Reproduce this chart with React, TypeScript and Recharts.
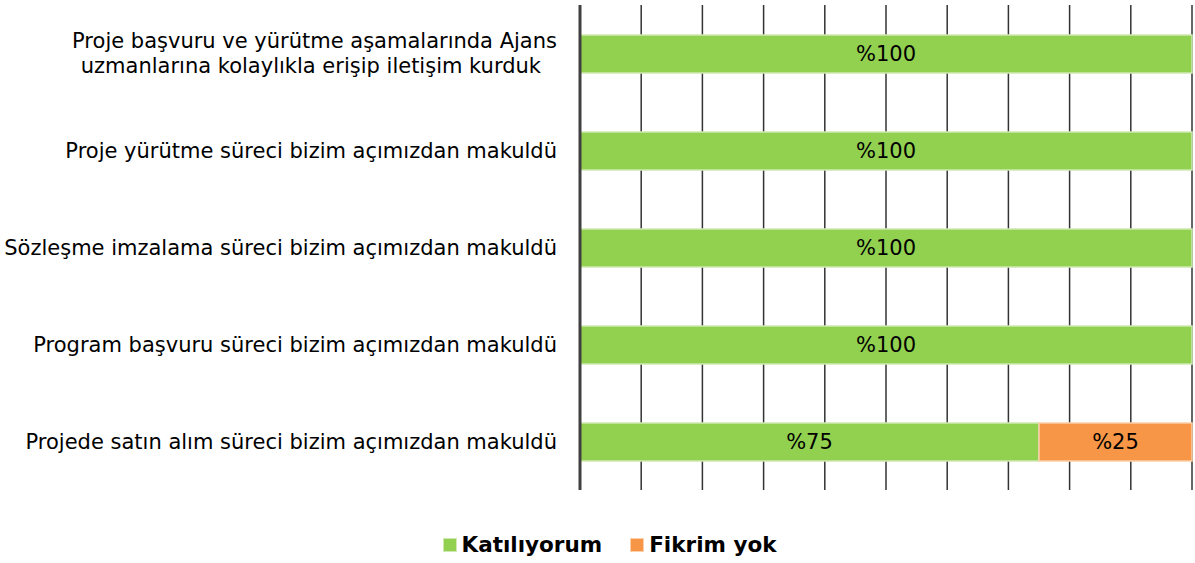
import { BarChart, Bar, XAxis, YAxis, CartesianGrid, Legend, LabelList } from "recharts";

const statements = [
  "Proje başvuru ve yürütme aşamalarında Ajans\nuzmanlarına kolaylıkla erişip iletişim kurduk",
  "Proje yürütme süreci bizim açımızdan makuldü",
  "Sözleşme imzalama süreci bizim açımızdan makuldü",
  "Program başvuru süreci bizim açımızdan makuldü",
  "Projede satın alım süreci bizim açımızdan makuldü",
];
const katiliyorum = [100, 100, 100, 100, 75];
const fikrimYok = [0, 0, 0, 0, 25];
const xTicks = [0, 10, 20, 30, 40, 50, 60, 70, 80, 90, 100];

const series = [
  { key: "katiliyorum", name: "Katılıyorum", color: "#92D050", border: "#cfe9b3" },
  { key: "fikrimYok", name: "Fikrim yok", color: "#F79646", border: "#fbcfa8" },
];

const data = statements.map((s, i) => ({
  name: s,
  katiliyorum: katiliyorum[i],
  fikrimYok: fikrimYok[i],
}));

const FONT = "'DejaVu Sans', Verdana, sans-serif";

const CategoryTick = (props: any) => {
  const { x, y, payload } = props;
  const lines: string[] = String(payload.value).split("\n");
  const lh = 25;
  const start = -((lines.length - 1) * lh) / 2;
  return (
    <text x={x} y={y} textAnchor="end" fill="#000" fontSize={21} fontFamily={FONT}>
      {lines.map((l, i) => (
        <tspan key={i} x={i === 0 ? x : x - 16} dy={i === 0 ? start + 7 : lh}>
          {l}
        </tspan>
      ))}
    </text>
  );
};

const LegendContent = () => (
  <div
    style={{
      display: "flex",
      justifyContent: "center",
      gap: 28,
      fontFamily: FONT,
      fontWeight: "bold",
      fontSize: 21.5,
      color: "#000",
      paddingLeft: 24,
    }}
  >
    {series.map((s) => (
      <div key={s.key} style={{ display: "flex", alignItems: "center" }}>
        <span
          style={{
            width: 12,
            height: 12,
            background: s.color,
            border: `1px solid ${s.border}`,
            marginRight: 5,
            display: "inline-block",
          }}
        />
        {s.name}
      </div>
    ))}
  </div>
);

export default function App() {
  return (
    <div style={{ position: "absolute", left: 0, top: 0, width: 1195, height: 563, background: "#fff" }}>
      <BarChart
        width={1195}
        height={563}
        data={data}
        layout="vertical"
        margin={{ top: 5, right: 3, bottom: 48, left: 0 }}
      >
        <CartesianGrid horizontal={false} stroke="#333" strokeWidth={1.5} />
        <XAxis type="number" domain={[0, 100]} ticks={xTicks} hide />
        <YAxis
          type="category"
          dataKey="name"
          width={580}
          axisLine={{ stroke: "#404040", strokeWidth: 3 }}
          tickLine={false}
          tickSize={0}
          tickMargin={23}
          tick={<CategoryTick />}
          interval={0}
        />
        <Legend
          content={<LegendContent />}
          wrapperStyle={{ left: 0, width: 1195, top: 532 }}
        />
        {series.map((s) => (
          <Bar
            key={s.key}
            dataKey={s.key}
            name={s.name}
            stackId="a"
            fill={s.color}
            stroke={s.border}
            strokeWidth={1.5}
            barSize={38}
            isAnimationActive={false}
          >
            <LabelList
              dataKey={s.key}
              position="center"
              formatter={(v: any) => (v ? `%${v}` : "")}
              fill="#000"
              fontSize={21}
              fontFamily={FONT}
            />
          </Bar>
        ))}
      </BarChart>
    </div>
  );
}
